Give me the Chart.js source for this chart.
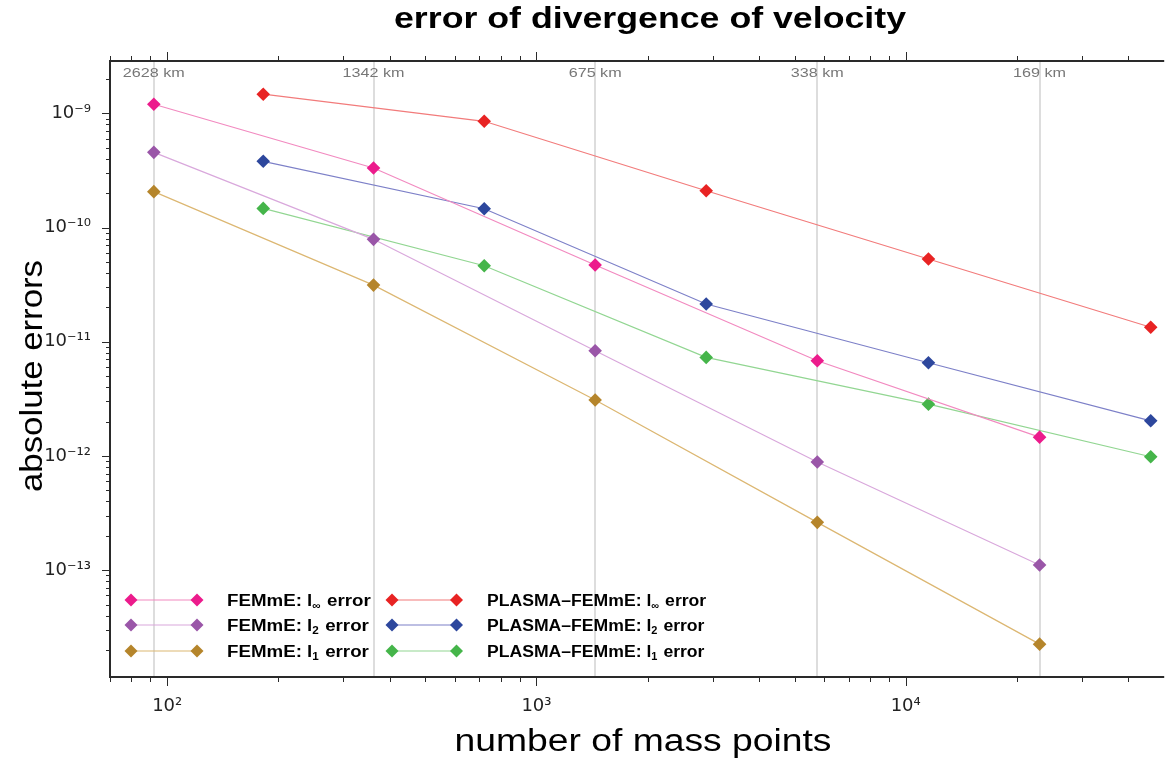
<!DOCTYPE html>
<html>
<head>
<meta charset="utf-8">
<title>error of divergence of velocity</title>
<script src="https://cdn.jsdelivr.net/npm/chart.js@4.4.1/dist/chart.umd.min.js"></script>
<style>
    html, body { margin: 0; padding: 0; background: #fff; }
    #wrap { width: 1169px; height: 765px; }
</style>
</head>
<body>
<div id="wrap"><canvas id="errChart"></canvas></div>
<script>
// number of mass points for both models
const femmePoints = [92, 362, 1442, 5762, 23042];
const plasmaPoints = [182, 722, 2882, 11522, 46082];
// grid resolution shown along the top axis (at the FEMmE points)
const resolutionLabels = ['2628 km', '1342 km', '675 km', '338 km', '169 km'];

// absolute errors
const femmeLinf = [1.20e-9, 3.32e-10, 4.70e-11, 6.82e-12, 1.46e-12];
const femmeL2 = [4.55e-10, 7.88e-11, 8.34e-12, 8.85e-13, 1.11e-13];
const femmeL1 = [2.06e-10, 3.13e-11, 3.09e-12, 2.62e-13, 2.25e-14];
const plasmaLinf = [1.47e-9, 8.51e-10, 2.10e-10, 5.30e-11, 1.34e-11];
const plasmaL2 = [3.80e-10, 1.46e-10, 2.14e-11, 6.55e-12, 2.03e-12];
const plasmaL1 = [1.47e-10, 4.63e-11, 7.29e-12, 2.84e-12, 9.84e-13];

const xTicks = [100, 1000, 10000];
const yTicks = [1e-9, 1e-10, 1e-11, 1e-12, 1e-13];

const methodNames = ['FEMmE', 'PLASMA\u2013FEMmE'];
const normNames = ['\u221e', '2', '1'];

const markerColors = ['#ec1b8c', '#9a56a8', '#b5852b', '#e82323', '#2d479d', '#45b54a'];
const lineColors = ['#f28ac0', '#d9a8dc', '#dcb772', '#f27b7b', '#7d80c8', '#92d692'];

const SUP = { '0': '\u2070', '1': '\u00b9', '2': '\u00b2', '3': '\u00b3', '4': '\u2074',
    '5': '\u2075', '6': '\u2076', '7': '\u2077', '8': '\u2078', '9': '\u2079', '-': '\u207b' };

function powerLabel(v) {
    const e = Math.round(Math.log10(v));
    return '10' + String(e).split('').map(c => SUP[c]).join('');
}

function toPoints(xs, ys) {
    return xs.map((x, i) => ({ x: x, y: ys[i] }));
}

// all 1..9 x 10^n positions inside a log range
function logMinorValues(min, max) {
    const out = [];
    for (let d = Math.floor(Math.log10(min)); d <= Math.ceil(Math.log10(max)); d++) {
        for (let m = 1; m <= 9; m++) {
            const v = m * Math.pow(10, d);
            if (v >= min && v <= max) out.push({ v: v, major: m === 1 });
        }
    }
    return out;
}

// text stretched horizontally so it spans a given width
function drawFitText(ctx, str, cx, cy, font, width, color, rotate) {
    ctx.save();
    ctx.font = font;
    const w = ctx.measureText(str).width;
    ctx.translate(cx, cy);
    if (rotate) ctx.rotate(rotate);
    ctx.scale(width / w, 1);
    ctx.fillStyle = color || '#000';
    ctx.textAlign = 'center';
    ctx.textBaseline = 'middle';
    ctx.fillText(str, 0, 0);
    ctx.restore();
}

function drawDiamond(ctx, x, y, r, color) {
    ctx.beginPath();
    ctx.moveTo(x, y - r);
    ctx.lineTo(x + r, y);
    ctx.lineTo(x, y + r);
    ctx.lineTo(x - r, y);
    ctx.closePath();
    ctx.fillStyle = color;
    ctx.fill();
}

function drawLegendLabel(ctx, x, y, name, norm, stretch) {
    ctx.save();
    ctx.translate(x, y);
    ctx.scale(stretch, 1);
    ctx.fillStyle = '#000';
    ctx.textBaseline = 'alphabetic';
    ctx.textAlign = 'left';
    ctx.font = 'bold 16px "Liberation Sans", Arial, sans-serif';
    const head = name + ': l';
    ctx.fillText(head, 0, 6);
    let w = ctx.measureText(head).width;
    ctx.font = 'bold 10px "Liberation Sans", Arial, sans-serif';
    ctx.fillText(norm, w, 9);
    w += ctx.measureText(norm).width + 1;
    ctx.font = 'bold 16px "Liberation Sans", Arial, sans-serif';
    ctx.fillText(' error', w, 6);
    ctx.restore();
}

const decorPlugin = {
    id: 'decor',
    afterDraw(chart) {
        const ctx = chart.ctx;
        const area = chart.chartArea;
        const xs = chart.scales.x;
        const ys = chart.scales.y;
        const top = chart.scales.xTop;

        ctx.save();
        // frame
        ctx.strokeStyle = '#2a2a2a';
        ctx.lineWidth = 2;
        ctx.beginPath();
        ctx.moveTo(area.right + 2, area.top);
        ctx.lineTo(area.left, area.top);
        ctx.lineTo(area.left, area.bottom);
        ctx.lineTo(area.right + 2, area.bottom);
        ctx.stroke();

        // log ticks on bottom, top and left
        ctx.lineWidth = 1;
        ctx.beginPath();
        logMinorValues(xs.min, xs.max).forEach(t => {
            const px = Math.round(xs.getPixelForValue(t.v)) + 0.5;
            const len = t.major ? 9 : 5;
            ctx.moveTo(px, area.bottom);
            ctx.lineTo(px, area.bottom + len);
            ctx.moveTo(px, area.top);
            ctx.lineTo(px, area.top - len);
        });
        logMinorValues(ys.min, ys.max).forEach(t => {
            const py = Math.round(ys.getPixelForValue(t.v)) + 0.5;
            const len = t.major ? 8 : 4;
            ctx.moveTo(area.left, py);
            ctx.lineTo(area.left - len, py);
        });
        ctx.stroke();

        // resolution labels under the top axis
        top.ticks.forEach((t, i) => {
            const w = resolutionLabels[i].length < 7 ? 53 : 62;
            drawFitText(ctx, resolutionLabels[i], top.getPixelForValue(t.value), area.top + 12,
                '13px "Liberation Sans", Arial, sans-serif', w, '#777');
        });

        // title and axis titles
        drawFitText(ctx, 'error of divergence of velocity', 650, 20,
            'bold 29px "Liberation Sans", Arial, sans-serif', 512, '#000');
        drawFitText(ctx, 'number of mass points', 643, 742,
            '31px "Liberation Sans", Arial, sans-serif', 377, '#000');
        drawFitText(ctx, 'absolute errors', 33, 376,
            '31px "Liberation Sans", Arial, sans-serif', 232, '#000', -Math.PI / 2);

        // legend, two columns of three rows
        const cols = [{ x1: 131, x2: 197, tx: 227 }, { x1: 392, x2: 456.5, tx: 487 }];
        const rows = [600, 625, 651];
        chart.data.datasets.forEach((ds, i) => {
            const c = cols[Math.floor(i / 3)];
            const y = rows[i % 3];
            ctx.strokeStyle = ds.borderColor;
            ctx.lineWidth = 1.2;
            ctx.beginPath();
            ctx.moveTo(c.x1, y);
            ctx.lineTo(c.x2, y);
            ctx.stroke();
            drawDiamond(ctx, c.x1, y, 6.5, ds.pointBackgroundColor);
            drawDiamond(ctx, c.x2, y, 6.5, ds.pointBackgroundColor);
            drawLegendLabel(ctx, c.tx, y, methodNames[Math.floor(i / 3)], normNames[i % 3],
                i < 3 ? 1.17 : 1.1);
        });
        ctx.restore();
    }
};

const seriesValues = [femmeLinf, femmeL2, femmeL1, plasmaLinf, plasmaL2, plasmaL1];

const datasets = seriesValues.map((vals, i) => ({
    label: methodNames[Math.floor(i / 3)] + ': l' + normNames[i % 3] + ' error',
    data: toPoints(i < 3 ? femmePoints : plasmaPoints, vals),
    borderColor: lineColors[i],
    borderWidth: 1.2,
    pointStyle: 'rectRot',
    pointRadius: 6.8,
    pointBorderWidth: 0,
    pointBackgroundColor: markerColors[i],
    pointBorderColor: markerColors[i],
    tension: 0,
    fill: false
}));

const xMin = 70;
const xMax = 49500;

const ctx = document.getElementById('errChart').getContext('2d');
window.errChart = new Chart(ctx, {
    type: 'line',
    data: { datasets: datasets },
    options: {
        responsive: true,
        maintainAspectRatio: false,
        animation: false,
        devicePixelRatio: 1,
        layout: { padding: 0 },
        plugins: {
            legend: { display: false },
            title: { display: false },
            tooltip: { enabled: false }
        },
        scales: {
            x: {
                type: 'logarithmic',
                position: 'bottom',
                min: xMin,
                max: xMax,
                afterBuildTicks: scale => { scale.ticks = xTicks.map(v => ({ value: v })); },
                afterFit: scale => { scale.height = 88; },
                grid: { display: false },
                border: { display: false },
                ticks: {
                    autoSkip: false,
                    maxRotation: 0,
                    padding: 11,
                    color: '#222',
                    font: { family: '"DejaVu Sans", sans-serif', size: 18 },
                    callback: v => powerLabel(v)
                }
            },
            xTop: {
                type: 'logarithmic',
                axis: 'x',
                position: 'top',
                min: xMin,
                max: xMax,
                afterBuildTicks: scale => { scale.ticks = femmePoints.map(v => ({ value: v })); },
                afterFit: scale => { scale.height = 61; },
                grid: { color: '#dddddd', lineWidth: 2, drawTicks: false },
                border: { display: false },
                ticks: { display: false }
            },
            y: {
                type: 'logarithmic',
                min: 1.16e-14,
                max: 2.87e-9,
                afterBuildTicks: scale => { scale.ticks = yTicks.map(v => ({ value: v })); },
                afterFit: scale => { scale.width = 110; },
                grid: { display: false },
                border: { display: false },
                ticks: {
                    autoSkip: false,
                    padding: 11,
                    color: '#222',
                    font: { family: '"DejaVu Sans", sans-serif', size: 18 },
                    callback: v => powerLabel(v)
                }
            }
        }
    },
    plugins: [decorPlugin]
});
</script>
</body>
</html>
